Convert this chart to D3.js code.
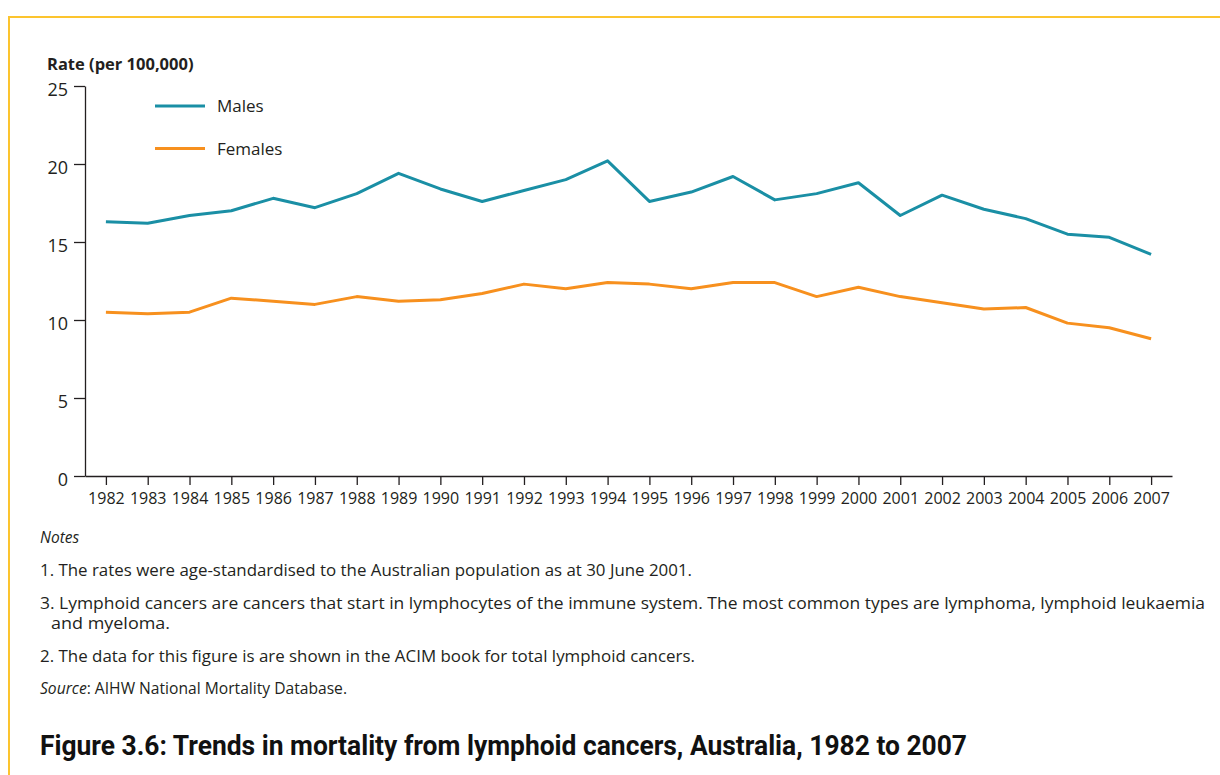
<!DOCTYPE html>
<html>
<head>
<meta charset="utf-8">
<script src="https://cdn.jsdelivr.net/npm/d3@7"></script>
<style>
  body { margin: 0; background: #fff; }
  svg { display: block; font-family: "Open Sans", sans-serif; }
  .axis text { fill: #231f20; }
  .axis path, .axis line { stroke: #231f20; stroke-width: 1.3; }
</style>
</head>
<body>
<div id="chart"></div>
<script>
const years = [1982, 1983, 1984, 1985, 1986, 1987, 1988, 1989, 1990, 1991, 1992, 1993, 1994,
  1995, 1996, 1997, 1998, 1999, 2000, 2001, 2002, 2003, 2004, 2005, 2006, 2007]
const males = [16.3, 16.2, 16.7, 17.0, 17.8, 17.2, 18.1, 19.4, 18.4, 17.6, 18.3, 19.0, 20.2,
  17.6, 18.2, 19.2, 17.7, 18.1, 18.8, 16.7, 18.0, 17.1, 16.5, 15.5, 15.3, 14.2]
const females = [10.5, 10.4, 10.5, 11.4, 11.2, 11.0, 11.5, 11.2, 11.3, 11.7, 12.3, 12.0, 12.4,
  12.3, 12.0, 12.4, 12.4, 11.5, 12.1, 11.5, 11.1, 10.7, 10.8, 9.8, 9.5, 8.8]
const yTicks = [0, 5, 10, 15, 20, 25]
const seriesNames = ["Males", "Females"]
const seriesColors = ["#1a8fa5", "#f7901e"]

const notes = [
  "1. The rates were age-standardised to the Australian population as at 30 June 2001.",
  "3. Lymphoid cancers are cancers that start in lymphocytes of the immune system. The most common types are lymphoma, lymphoid leukaemia",
  "2. The data for this figure is are shown in the ACIM book for total lymphoid cancers."
]

const W = 1220, H = 775
const svg = d3.select("#chart").append("svg")
  .attr("width", W)
  .attr("height", H)

// page frame
svg.append("path")
  .attr("d", `M9,${H} V17 H${W}`)
  .attr("fill", "none")
  .attr("stroke", "#fcc42e")
  .attr("stroke-width", 2)

let x = d3.scalePoint()
  .domain(years)
  .range([85, 1172])
  .padding(0.5)

let y = d3.scaleLinear()
  .domain([0, 25])
  .range([476, 86])

svg.append("g")
  .attr("class", "axis")
  .attr("transform", "translate(85,0)")
  .call(d3.axisLeft(y).tickValues(yTicks).tickSize(11).tickSizeOuter(0).tickPadding(6))
  .call(g => g.selectAll("text").attr("font-size", 18).attr("font-family", "Open Sans").attr("dy", "0.5em"))

svg.append("g")
  .attr("class", "axis")
  .attr("transform", "translate(0,476)")
  .call(d3.axisBottom(x).tickSize(9).tickSizeOuter(0).tickPadding(6))
  .call(g => g.selectAll("text").attr("font-size", 16).attr("font-family", "Open Sans").attr("dy", "0.8em"))

svg.append("text")
  .attr("x", 47)
  .attr("y", 70)
  .attr("font-size", 16.5)
  .attr("font-weight", "bold")
  .attr("fill", "#231f20")
  .text("Rate (per 100,000)")

let line = d3.line()
  .x((d, i) => x(years[i]))
  .y(d => y(d))

const seriesData = [males, females]
svg.selectAll(".series")
  .data(seriesData)
  .join("path")
  .attr("class", "series")
  .attr("d", d => line(d))
  .attr("fill", "none")
  .attr("stroke", (d, i) => seriesColors[i])
  .attr("stroke-width", 3)
  .attr("stroke-linejoin", "round")

// legend
const legend = svg.selectAll(".legend")
  .data(seriesNames)
  .join("g")
  .attr("class", "legend")
  .attr("transform", (d, i) => `translate(155,${106 + i * 42.5})`)
legend.append("line")
  .attr("x1", 0).attr("x2", 50)
  .attr("stroke", (d, i) => seriesColors[i])
  .attr("stroke-width", 3)
legend.append("text")
  .attr("x", 62)
  .attr("dy", "0.36em")
  .attr("font-size", 17)
  .attr("fill", "#231f20")
  .text(d => d)

// notes
const noteG = svg.append("g").attr("fill", "#231f20").attr("font-size", 15.5)
noteG.append("text").attr("x", 40).attr("y", 543).attr("font-style", "italic").text("Notes")
noteG.append("text").attr("x", 40).attr("y", 576).attr("textLength", 652).attr("lengthAdjust", "spacingAndGlyphs").text(notes[0])
noteG.append("text").attr("x", 40).attr("y", 609).attr("textLength", 1165).attr("lengthAdjust", "spacingAndGlyphs").text(notes[1])
noteG.append("text").attr("x", 51).attr("y", 629).attr("textLength", 119).attr("lengthAdjust", "spacingAndGlyphs").text("and myeloma.")
noteG.append("text").attr("x", 40).attr("y", 662).attr("textLength", 655).attr("lengthAdjust", "spacingAndGlyphs").text(notes[2])
const src = noteG.append("text").attr("x", 40).attr("y", 694)
  .attr("textLength", 307).attr("lengthAdjust", "spacingAndGlyphs")
src.append("tspan").attr("font-style", "italic").text("Source")
src.append("tspan").text(": AIHW National Mortality Database.")

svg.append("text")
  .attr("x", 40)
  .attr("y", 755)
  .attr("font-size", 27)
  .attr("font-weight", "bold")
  .attr("font-family", "Roboto, sans-serif")
  .attr("fill", "#111")
  .attr("textLength", 927)
  .attr("lengthAdjust", "spacingAndGlyphs")
  .text("Figure 3.6: Trends in mortality from lymphoid cancers, Australia, 1982 to 2007")
</script>
</body>
</html>
